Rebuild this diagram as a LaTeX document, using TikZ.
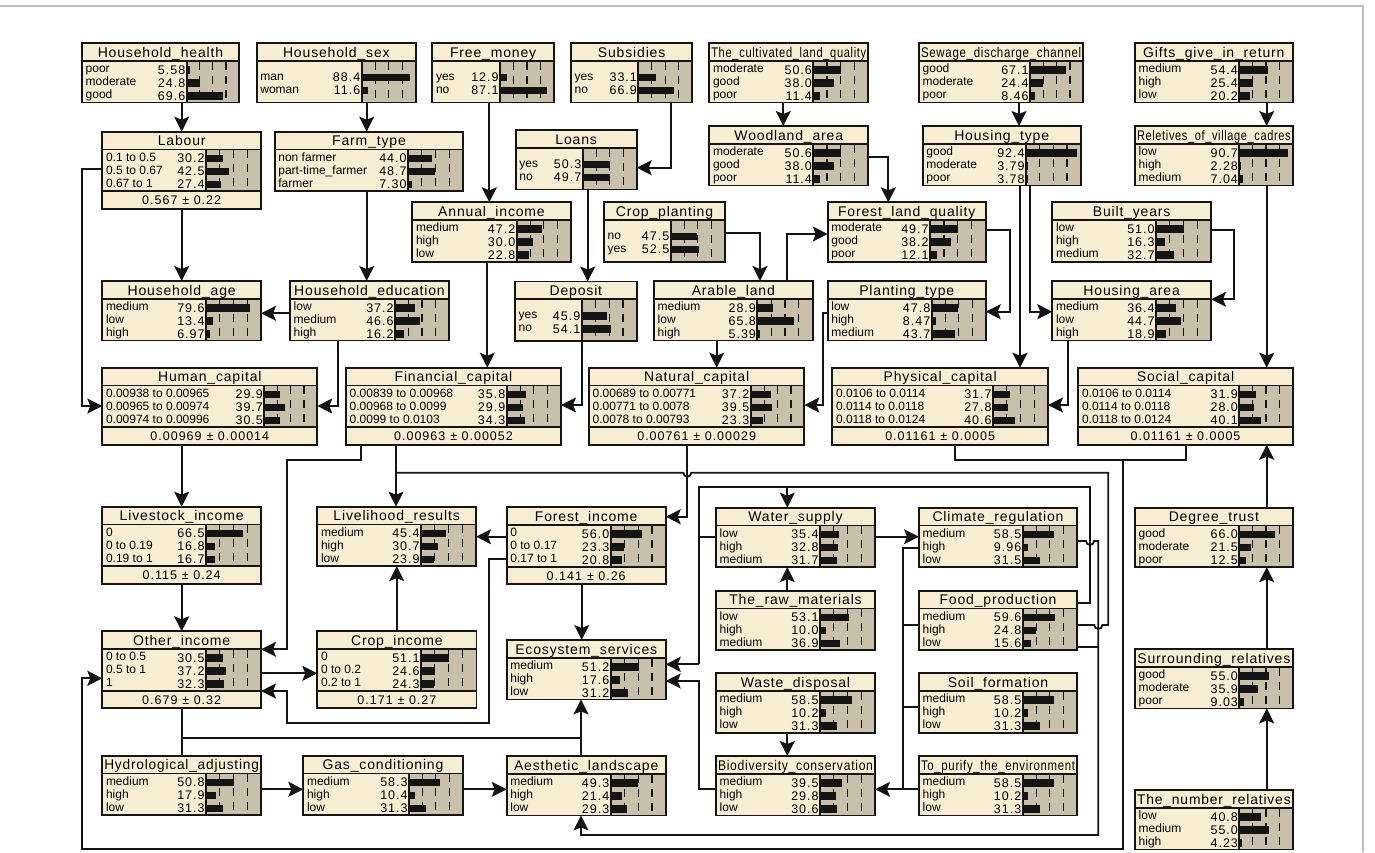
\documentclass[tikz,border=0pt]{standalone}
\usepackage{graphicx}
\usepackage{fontspec}
\setmainfont{Liberation Sans}
\newfontfamily\titlefont[LetterSpace=6]{Liberation Sans}
\newfontfamily\numfont[LetterSpace=8]{Liberation Sans}
\usetikzlibrary{arrows.meta,fit}
\definecolor{cream}{RGB}{246,237,211}
\definecolor{tanbg}{RGB}{200,192,170}
\definecolor{ink}{RGB}{20,20,20}
\definecolor{framegray}{RGB}{190,190,190}
\newsavebox\tbox
\newcommand\fittitle[2]{\sbox\tbox{\titlefont\fontsize{14}{16}\selectfont #2}\ifdim\wd\tbox>#1pt\resizebox{#1pt}{\height}{\usebox\tbox}\else\usebox\tbox\fi}
\tikzset{
 border/.style={draw=ink,line width=1.8pt},
 dline/.style={draw=ink,line width=1.2pt,dash pattern=on 8pt off 6pt,dash phase=-1pt},
 link/.style={draw=ink,line width=1.8pt,-{Stealth[length=15pt,width=15pt,inset=3pt]}},
 plain/.style={draw=ink,line width=1.8pt},
 lab/.style={inner sep=0pt,font=\fontsize{12}{14}\selectfont},
 num/.style={inner sep=0pt,font=\numfont\fontsize{12.5}{14}\selectfont},
 ttl/.style={inner sep=0pt},
}
% id, title, x1, y1, x2, bar-left, nrows, rows, mean
\newcommand\bn[9]{%
 \pgfmathsetmacro\xa{#3}\pgfmathsetmacro\ya{#4}%
 \pgfmathsetmacro\xb{#5}\pgfmathsetmacro\xr{#6}%
 \pgfmathsetmacro\yt{\ya+17.7}\pgfmathsetmacro\yc{\yt+41.7}%
 \def\meantext{#9}%
 \ifx\meantext\empty\let\yb\yc\else\pgfmathsetmacro\yb{\yc+17.6}\fi
 \node[fit={(\xa,\ya) (\xb,\yb)},inner sep=0pt,outer sep=0pt,draw=none] (#1) {};
 \fill[cream] (\xa,\ya) rectangle (\xb,\yb);
 \fill[tanbg] (\xr,\yt) rectangle (\xb,\yc);
 \foreach \f in {0.25,0.5,0.75}{\pgfmathsetmacro\xd{\xr+\f*(\xb-\xr)}\draw[dline] (\xd,\yt) -- (\xd,\yc);}
 \pgfmathsetmacro\rs{#7==2 ? 15 : 7.5}%
 \foreach \lab/\val [count=\i] in {#8}{%
   \pgfmathsetmacro\yr{\yt+\rs+13*(\i-1)}%
   \pgfmathsetmacro\xe{\xr+\val*(\xb-\xr)/100}%
   \fill[ink] (\xr,\yr-2.2) rectangle (\xe,\yr+5.4);
   \node[lab,anchor=base west] at (\xa+3.5,\yr+4.3) {\lab};
   \node[num,anchor=base east] at (\xr-1.2,\yr+5.8) {\val};
 }
 \pgfmathsetmacro\tw{\xb-\xa-4}%
 \node[ttl,anchor=base] at ({(\xa+\xb)/2},\ya+14) {\fittitle{\tw}{#2}};
 \ifx\meantext\empty\else
   \node[num,anchor=base] at ({(\xa+\xb)/2},\yc+13.3) {#9};
   \draw[border] (\xa,\yc) -- (\xb,\yc);
 \fi
 \draw[border] (\xa,\yt) -- (\xb,\yt);
 \draw[border] (\xr,\yt) -- (\xr,\yc);
 \draw[border] (\xa,\ya) rectangle (\xb,\yb);
}
\begin{document}
\begin{tikzpicture}[x=1pt,y=-1pt]
\useasboundingbox (0,0) rectangle (1375,852);
\fill[white] (0,0) rectangle (1375,852);
\draw[framegray,line width=1.2pt] (0,6) -- (1363,6) -- (1363,852);

% row 1
\bn{hh}{Household\_health}{82}{43}{239}{186.7}{3}{poor/5.58,moderate/24.8,good/69.6}{}
\bn{hs}{Household\_sex}{256.7}{43}{416}{361.7}{2}{man/88.4,woman/11.6}{}
\bn{fm}{Free\_money}{432.3}{43}{554}{500}{2}{yes/12.9,no/87.1}{}
\bn{sub}{Subsidies}{571}{43}{692.3}{638.3}{2}{yes/33.1,no/66.9}{}
\bn{clq}{The\_cultivated\_land\_quality}{709.3}{43}{868.3}{813.3}{3}{moderate/50.6,good/38.0,poor/11.4}{}
\bn{sdc}{Sewage\_discharge\_channel}{919}{43}{1083.3}{1030}{3}{good/67.1,moderate/24.4,poor/8.46}{}
\bn{ggr}{Gifts\_give\_in\_return}{1135}{43}{1292.7}{1239.3}{3}{medium/54.4,high/25.4,low/20.2}{}
% row 2
\bn{lab}{Labour}{102.3}{131.7}{261}{206}{3}{0.1 to 0.5/30.2,0.5 to 0.67/42.5,0.67 to 1/27.4}{0.567\hspace{5pt}±~0.22}
\bn{ft}{Farm\_type}{274.7}{131.7}{463.3}{408}{3}{non farmer/44.0,part-time\_farmer/48.7,farmer/7.30}{}
\bn{loans}{Loans}{515.7}{130}{636.7}{582.7}{2}{yes/50.3,no/49.7}{}
\bn{wa}{Woodland\_area}{709.3}{126}{868.3}{813.3}{3}{moderate/50.6,good/38.0,poor/11.4}{}
\bn{ht}{Housing\_type}{922.7}{126}{1080.7}{1026}{3}{good/92.4,moderate/3.79,poor/3.78}{}
\bn{rvc}{Reletives\_of\_village\_cadres}{1135}{126}{1292.7}{1239.3}{3}{low/90.7,high/2.28,medium/7.04}{}
% row 3
\bn{ai}{Annual\_income}{412.3}{202.3}{570.7}{516.7}{3}{medium/47.2,high/30.0,low/22.8}{}
\bn{cp}{Crop\_planting}{604}{202.3}{725}{670.7}{2}{no/47.5,yes/52.5}{}
\bn{flq}{Forest\_land\_quality}{827.7}{202.3}{985.7}{930}{3}{moderate/49.7,good/38.2,poor/12.1}{}
\bn{by}{Built\_years}{1052.3}{202.3}{1211}{1156}{3}{low/51.0,high/16.3,medium/32.7}{}
% row 4
\bn{ha}{Household\_age}{102.3}{281}{261}{206}{3}{medium/79.6,low/13.4,high/6.97}{}
\bn{he}{Household\_education}{290}{281}{449}{395}{3}{low/37.2,medium/46.6,high/16.2}{}
\bn{dep}{Deposit}{515}{281.5}{636.7}{581.7}{2}{yes/45.9,no/54.1}{}
\bn{al}{Arable\_land}{654}{281}{812.7}{757.3}{3}{medium/28.9,low/65.8,high/5.39}{}
\bn{pt}{Planting\_type}{827.7}{281}{985.7}{931.7}{3}{low/47.8,high/8.47,medium/43.7}{}
\bn{har}{Housing\_area}{1052.3}{281}{1211}{1156}{3}{medium/36.4,low/44.7,high/18.9}{}
% row 5 (capitals)
\bn{hc}{Human\_capital}{102.3}{367.7}{317.3}{264.3}{3}{0.00938 to 0.00965/29.9,0.00965 to 0.00974/39.7,0.00974 to 0.00996/30.5}{0.00969\hspace{5pt}±~0.00014}
\bn{fc}{Financial\_capital}{346}{367.7}{561}{506.7}{3}{0.00839 to 0.00968/35.8,0.00968 to 0.0099/29.9,0.0099 to 0.0103/34.3}{0.00963\hspace{5pt}±~0.00052}
\bn{nc}{Natural\_capital}{589}{367.7}{804.3}{750.7}{3}{0.00689 to 0.00771/37.2,0.00771 to 0.0078/39.5,0.0078 to 0.00793/23.3}{0.00761\hspace{5pt}±~0.00029}
\bn{pc}{Physical\_capital}{832.3}{367.7}{1048}{993}{3}{0.0106 to 0.0114/31.7,0.0114 to 0.0118/27.8,0.0118 to 0.0124/40.6}{0.01161\hspace{5pt}±~0.0005}
\bn{sc}{Social\_capital}{1078.3}{367.7}{1292.7}{1239.3}{3}{0.0106 to 0.0114/31.9,0.0114 to 0.0118/28.0,0.0118 to 0.0124/40.1}{0.01161\hspace{5pt}±~0.0005}
% row 6
\bn{li}{Livestock\_income}{102.3}{506.7}{261}{206}{3}{0/66.5,0 to 0.19/16.8,0.19 to 1/16.7}{0.115\hspace{5pt}±~0.24}
\bn{lr}{Livelihood\_results}{317.3}{506.7}{476}{421}{3}{medium/45.4,high/30.7,low/23.9}{}
\bn{fi}{Forest\_income}{506.7}{507.3}{665.7}{610.7}{3}{0/56.0,0 to 0.17/23.3,0.17 to 1/20.8}{0.141\hspace{5pt}±~0.26}
\bn{ws}{Water\_supply}{716}{507.7}{875}{820}{3}{low/35.4,high/32.8,medium/31.7}{}
\bn{cr}{Climate\_regulation}{919}{507.7}{1077}{1022.7}{3}{medium/58.5,high/9.96,low/31.5}{}
\bn{dt}{Degree\_trust}{1135}{507.7}{1292.7}{1239.3}{3}{good/66.0,moderate/21.5,poor/12.5}{}
% row 7
\bn{rm}{The\_raw\_materials}{716}{590.7}{875}{820}{3}{low/53.1,high/10.0,medium/36.9}{}
\bn{fp}{Food\_production}{919}{590.7}{1077}{1022.7}{3}{medium/59.6,high/24.8,low/15.6}{}
\bn{oi}{Other\_income}{102.3}{631.3}{261}{206}{3}{0 to 0.5/30.5,0.5 to 1/37.2,1/32.3}{0.679\hspace{5pt}±~0.32}
\bn{ci}{Crop\_income}{317.3}{631.3}{476.5}{421}{3}{0/51.1,0 to 0.2/24.6,0.2 to 1/24.3}{0.171\hspace{5pt}±~0.27}
\bn{es}{Ecosystem\_services}{506.7}{640}{665.7}{610.7}{3}{medium/51.2,high/17.6,low/31.2}{}
\bn{sr}{Surrounding\_relatives}{1135}{649}{1292.7}{1239.3}{3}{good/55.0,moderate/35.9,poor/9.03}{}
\bn{wd}{Waste\_disposal}{716}{673.3}{875}{820}{3}{medium/58.5,high/10.2,low/31.3}{}
\bn{sf}{Soil\_formation}{919}{673.3}{1077}{1022.7}{3}{medium/58.5,high/10.2,low/31.3}{}
% row 8
\bn{hya}{Hydrological\_adjusting}{102.3}{755.7}{261}{206}{3}{medium/50.8,high/17.9,low/31.3}{}
\bn{gc}{Gas\_conditioning}{303.3}{755.7}{462.7}{409}{3}{medium/58.3,high/10.4,low/31.3}{}
\bn{ael}{Aesthetic\_landscape}{506.7}{756}{665.7}{610.7}{3}{medium/49.3,high/21.4,low/29.3}{}
\bn{bc}{Biodiversity\_conservation}{716}{756}{875}{820}{3}{medium/39.5,high/29.8,low/30.6}{}
\bn{pe}{To\_purify\_the\_environment}{919}{756}{1077}{1022.7}{3}{medium/58.5,high/10.2,low/31.3}{}
\bn{nr}{The\_number\_relatives}{1135}{790}{1292.7}{1239.3}{3}{low/40.8,medium/55.0,high/4.23}{}

% ---------- connectors ----------
\draw[link] (181.7,0 |- hh.south) -- (181.7,0 |- lab.north);
\draw[link] (366.7,0 |- hs.south) -- (366.7,0 |- ft.north);
\draw[link] (181.7,0 |- lab.south) -- (181.7,0 |- ha.north);
\draw[link] (lab.west |- 0,169.3) -- (82.3,169.3) -- (82.3,406) -- (hc.west |- 0,406);
\draw[link] (366.7,0 |- ft.south) -- (366.7,0 |- he.north);
\draw[link] (he.west |- 0,313.3) -- (ha.east |- 0,313.3);
\draw[link] (337.7,0 |- he.south) -- (337.7,406) -- (hc.east |- 0,406);
\draw[link] (489.3,0 |- fm.south) -- (489.3,0 |- ai.north);
\draw[link] (670.7,0 |- sub.south) -- (670.7,167.7) -- (loans.east |- 0,167.7);
\draw[link] (587.7,0 |- loans.south) -- (587.7,0 |- dep.north);
\draw[link] (487.3,0 |- ai.south) -- (487.3,0 |- fc.north);
\draw[link] (581.7,0 |- dep.south) -- (581.7,405) -- (fc.east |- 0,405);
\draw[link] (783.3,0 |- clq.south) -- (783.3,0 |- wa.north);
\draw[link] (wa.east |- 0,156.7) -- (888.3,156.7) -- (888.3,0 |- flq.north);
\draw[link] (cp.east |- 0,233.3) -- (760,233.3) -- (760,0 |- al.north);
\draw[link] (787.3,0 |- al.north) -- (787.3,234) -- (flq.west |- 0,234);
\draw[link] (716.7,0 |- al.south) -- (716.7,0 |- nc.north);
\draw[link] (1019,0 |- sdc.south) -- (1019,0 |- ht.north);
\draw[link] (flq.east |- 0,230) -- (1010,230) -- (1010,311.7) -- (pt.east |- 0,311.7);
\draw[link] (1020,0 |- ht.south) -- (1020,0 |- pc.north);
\draw[link] (1030,0 |- ht.south) -- (1030,311.7) -- (har.west |- 0,311.7);
\draw[link] (by.east |- 0,230) -- (1234.3,230) -- (1234.3,299.3) -- (har.east |- 0,299.3);
\draw[link] (1266.7,0 |- ggr.south) -- (1266.7,0 |- rvc.north);
\draw[link] (1266.7,0 |- rvc.south) -- (1266.7,0 |- sc.north);
\draw[link] (1067.7,0 |- har.south) -- (1067.7,405) -- (pc.east |- 0,405);
\draw[link] (pt.west |- 0,312.7) -- (823.3,312.7) -- (823.3,405) -- (nc.east |- 0,405);
\draw[link] (1266.7,0 |- dt.north) -- (1266.7,0 |- sc.south);
\draw[link] (1266.7,0 |- sr.north) -- (1266.7,0 |- dt.south);
\draw[link] (1266.7,0 |- nr.north) -- (1266.7,0 |- sr.south);
\draw[link] (181.7,0 |- hc.south) -- (181.7,0 |- li.north);
\draw[link] (181.7,0 |- li.south) -- (181.7,0 |- oi.north);
\draw[link] (361,0 |- fc.south) -- (361,460) -- (287.3,460) -- (287.3,649.3) -- (oi.east |- 0,649.3);
\draw[link] (396,0 |- fc.south) -- (396,0 |- lr.north);
% long line at 472.7 with hops
\draw[plain] (fp.east |- 0,625) -- (1094.3,625) arc[start angle=180,end angle=0,radius=4] -- (1108.3,625) -- (1108.3,472.7) -- (691.3,472.7) arc[start angle=0,end angle=180,radius=4] -- (396,472.7);
\draw[link] (687.3,0 |- nc.south) -- (687.3,516.7) -- (fi.east |- 0,516.7);
\draw[link] (fi.west |- 0,536.7) -- (lr.east |- 0,536.7);
\draw[link] (581.7,0 |- fi.south) -- (581.7,0 |- es.north);
\draw[link] (396.7,0 |- ci.north) -- (396.7,0 |- lr.south);
\draw[link] (oi.east |- 0,673.3) -- (ci.west |- 0,673.3);
\draw[link] (fi.west |- 0,559.3) -- (489.3,559.3) -- (489.3,722.7) -- (287.3,722.7) -- (287.3,691) -- (oi.east |- 0,691);
\draw[plain] (181.7,0 |- oi.south) -- (181.7,738.3);
\draw[link] (181.7,0 |- hya.north) -- (181.7,738.3) -- (581,738.3) -- (581,0 |- es.south);
\draw[plain] (581,0 |- ael.north) -- (581,738.3);
\draw[link] (hya.east |- 0,789.3) -- (gc.west |- 0,789.3);
\draw[link] (gc.east |- 0,789.3) -- (ael.west |- 0,789.3);
% climate regulation / food production to the right side
\draw[link] (cr.east |- 0,541) -- (1086,541) arc[start angle=180,end angle=0,radius=4] -- (1098.3,541) -- (1098.3,835) -- (581,835) -- (581,0 |- ael.south);
\draw[plain] (fp.east |- 0,646.7) -- (1098.3,646.7);
\draw[plain] (fp.east |- 0,603.3) -- (1090,603.3) -- (1090,486.7) -- (699,486.7) -- (699,664.3);
\draw[link] (699,664.3) -- (es.east |- 0,664.3);
\draw[link] (787.3,486.7) -- (787.3,0 |- ws.north);
\draw[plain] (ws.west |- 0,536.7) -- (699,536.7);
\draw[link] (ws.east |- 0,536.7) -- (cr.west |- 0,536.7);
\draw[link] (787.3,0 |- rm.north) -- (787.3,0 |- ws.south);
\draw[link] (787.3,0 |- wd.south) -- (787.3,0 |- bc.north);
\draw[link] (bc.west |- 0,789.3) -- (699,789.3) -- (699,681) -- (es.east |- 0,681);
\draw[link] (cr.west |- 0,548) -- (903,548) -- (903,789.3) -- (bc.east |- 0,789.3);
\draw[plain] (fp.west |- 0,625) -- (903,625);
\draw[plain] (sf.west |- 0,706.7) -- (903,706.7);
\draw[plain] (pe.west |- 0,789.3) -- (903,789.3);
% physical / social capital to other income
\draw[plain] (955,0 |- pc.south) -- (955,460) -- (1122.7,460);
\draw[link] (1185.7,0 |- sc.south) -- (1185.7,460) -- (1122.7,460) -- (1122.7,849.3) -- (82.3,849.3) -- (82.3,678.3) -- (oi.west |- 0,678.3);
\end{tikzpicture}
\end{document}
